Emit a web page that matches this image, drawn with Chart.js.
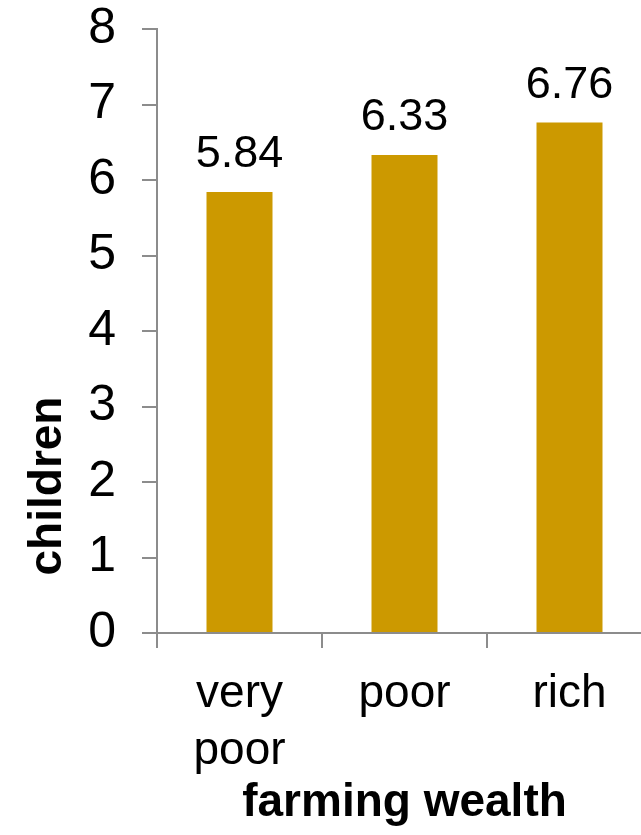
<!DOCTYPE html>
<html>
<head>
<meta charset="utf-8">
<script src="https://cdn.jsdelivr.net/npm/chart.js@4.4.1/dist/chart.umd.min.js"></script>
<style>
  html, body { margin: 0; padding: 0; background: #fff; overflow: hidden; }
  #wrap { width: 680px; height: 835px; }
</style>
</head>
<body>
<div id="wrap"><canvas id="mycanvas" width="680" height="835"></canvas></div>
<script>
// data
var categories = [["very", "poor"], "poor", "rich"];
var children = [5.84, 6.33, 6.76];
var yTicks = [0, 1, 2, 3, 4, 5, 6, 7, 8];

var barColor = "rgb(204, 153, 0)";
var axisColor = "#8c8c8c";
var fontFamily = "'Liberation Sans', Arial, sans-serif";

// value labels above the bars
var valueLabels = {
    id: "valueLabels",
    afterDatasetsDraw: function (chart) {
        var ctx = chart.ctx;
        var meta = chart.getDatasetMeta(0);
        ctx.save();
        ctx.font = "45px " + fontFamily;
        ctx.fillStyle = "#000";
        ctx.textAlign = "center";
        ctx.textBaseline = "alphabetic";
        meta.data.forEach(function (bar, i) {
            ctx.fillText(children[i].toFixed(2), bar.x, bar.y - 25);
        });
        ctx.restore();
    }
};

// y axis title sits lower than centre in the original
var yTitle = {
    id: "yTitle",
    afterDraw: function (chart) {
        var ctx = chart.ctx;
        var area = chart.chartArea;
        ctx.save();
        ctx.translate(61, area.bottom - 147);
        ctx.rotate(-Math.PI / 2);
        ctx.font = "bold 46px " + fontFamily;
        ctx.fillStyle = "#000";
        ctx.textAlign = "center";
        ctx.textBaseline = "alphabetic";
        ctx.fillText("children", 0, 0);
        ctx.restore();
    }
};

var chartData = {
    labels: categories,
    datasets: [
        {
            label: "children",
            backgroundColor: barColor,
            borderColor: barColor,
            borderWidth: 0,
            data: children,
            barPercentage: 0.4,
            categoryPercentage: 1.0
        }
    ]
};

var ctx = document.getElementById("mycanvas");

var barGraph = new Chart(ctx, {
    type: "bar",
    data: chartData,
    plugins: [valueLabels, yTitle],
    options: {
        responsive: false,
        animation: false,
        layout: { padding: { top: 0, right: 28, left: 0, bottom: 0 } },
        plugins: {
            legend: { display: false },
            tooltip: { enabled: false }
        },
        scales: {
            x: {
                grid: {
                    offset: true,
                    drawOnChartArea: false,
                    drawTicks: true,
                    tickLength: 15,
                    color: axisColor,
                    lineWidth: 2
                },
                border: { color: axisColor, width: 2 },
                ticks: {
                    color: "#000",
                    padding: 18,
                    maxRotation: 0,
                    autoSkip: false,
                    font: { family: fontFamily, size: 46, lineHeight: 1.24 }
                },
                title: {
                    display: true,
                    text: "farming wealth",
                    color: "#000",
                    padding: { top: 0, bottom: 4 },
                    font: { family: fontFamily, size: 46, weight: "bold" }
                },
                afterFit: function (scale) { scale.height = 202; }
            },
            y: {
                min: 0,
                max: 8,
                afterBuildTicks: function (scale) {
                    scale.ticks = yTicks.map(function (v) { return { value: v }; });
                },
                grid: {
                    drawOnChartArea: false,
                    drawTicks: true,
                    tickLength: 15,
                    color: axisColor,
                    lineWidth: 2
                },
                border: { color: axisColor, width: 2 },
                ticks: {
                    color: "#000",
                    padding: 26,
                    font: { family: fontFamily, size: 50, lineHeight: 1.16 }
                },
                afterFit: function (scale) {
                    scale.width = 157;
                    scale.paddingTop = 29;
                    scale.paddingBottom = 29;
                }
            }
        }
    }
});
</script>
</body>
</html>
